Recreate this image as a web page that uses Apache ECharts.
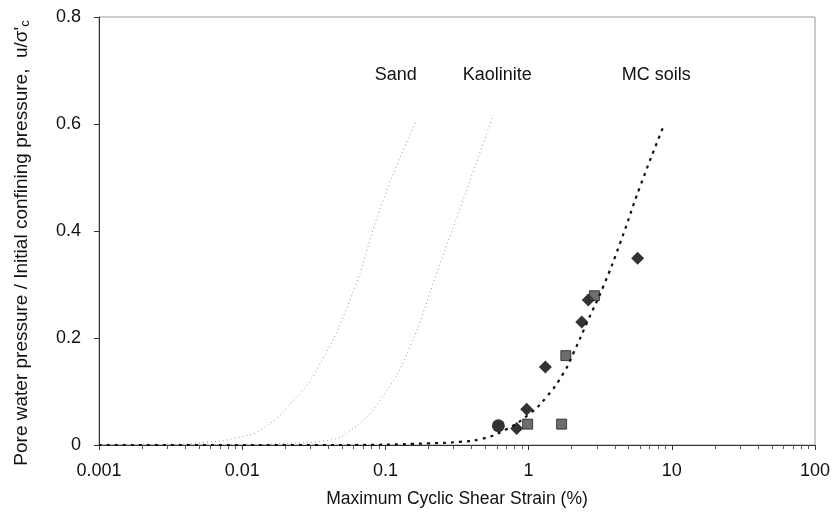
<!DOCTYPE html>
<html>
<head>
<meta charset="utf-8">
<script src="https://cdn.jsdelivr.net/npm/echarts@6/dist/echarts.min.js"></script>
<style>
  html, body { margin: 0; padding: 0; background: #fff; }
  #chart { width: 836px; height: 518px; }
</style>
</head>
<body>
<div id="chart"></div>
<script>
// curves [strain %, u/sigma'c]
var sandCurve = [[0.001, 0], [0.003, 0.001], [0.00565, 0.005], [0.009, 0.013], [0.014, 0.031],
  [0.024, 0.09], [0.0322, 0.134], [0.0566, 0.271], [0.0966, 0.458], [0.163, 0.604]];
var kaoliniteCurve = [[0.001, 0], [0.01, 0.0005], [0.0204, 0.003], [0.0368, 0.0075], [0.0597, 0.031],
  [0.0993, 0.097], [0.1486, 0.184], [0.228, 0.321], [0.323, 0.433], [0.566, 0.617]];
var mcCurve = [[0.001, 0], [0.05, 0], [0.2, 0.003], [0.332, 0.006], [0.458, 0.0107], [0.684, 0.028],
  [1.023, 0.059], [1.336, 0.09], [1.75, 0.134], [2.05, 0.171], [2.61, 0.234], [3.32, 0.296],
  [4.35, 0.377], [6.0, 0.483], [8.73, 0.595]];
// measured points
var diamondPts = [[5.77, 0.349], [2.61, 0.271], [2.35, 0.23], [1.31, 0.146], [0.97, 0.067], [0.826, 0.031]];
var squarePts = [[2.88, 0.279], [1.82, 0.167], [0.985, 0.039], [1.70, 0.039]];
var circlePts = [[0.615, 0.036]];
var yTicks = [0, 0.2, 0.4, 0.6, 0.8];

var FONT = '"Liberation Sans", Arial, sans-serif';

// text label placed above the top end of a curve
function endLabel(pt, text, dx, dy) {
  return {
    symbol: 'circle',
    symbolSize: 1,
    silent: true,
    itemStyle: { color: 'rgba(0,0,0,0)' },
    data: [{
      coord: pt,
      label: {
        show: true, position: 'inside', formatter: text,
        color: '#111', fontSize: 18, fontFamily: FONT, offset: [dx, dy]
      }
    }]
  };
}

var chart = echarts.init(document.getElementById('chart'));
var option = {
  animation: false,
  backgroundColor: '#fff',
  grid: {
    left: 99, right: 21, top: 17, bottom: 73, outerBoundsMode: 'none',
    show: true, borderColor: '#999', borderWidth: 1
  },
  xAxis: {
    type: 'log',
    logBase: 10,
    min: 0.001,
    max: 100,
    name: 'Maximum Cyclic Shear Strain (%)',
    nameLocation: 'middle',
    nameGap: 45,
    nameTextStyle: { fontSize: 17.5, fontFamily: FONT, color: '#111' },
    axisLine: { lineStyle: { color: '#333', width: 1 } },
    axisTick: { show: true, inside: false, length: 5, lineStyle: { color: '#333' } },
    minorTick: { show: true, splitNumber: 9, length: 4, lineStyle: { color: '#555' } },
    splitLine: { show: false },
    axisLabel: {
      fontSize: 18, fontFamily: FONT, color: '#111', margin: 17,
      formatter: function (v) { return String(+v.toPrecision(3)); }
    }
  },
  yAxis: {
    type: 'value',
    min: yTicks[0],
    max: yTicks[yTicks.length - 1],
    interval: 0.2,
    name: '{a|Pore water pressure / Initial confining pressure,  u/σ\'}{s|c}',
    nameLocation: 'middle',
    nameGap: 67,
    nameTextStyle: {
      fontFamily: FONT, color: '#111',
      rich: {
        a: { fontSize: 19, fontFamily: FONT, color: '#111' },
        s: { fontSize: 13, fontFamily: FONT, color: '#111', padding: [7, 24, 0, 0] }
      }
    },
    axisLine: { show: true, lineStyle: { color: '#333', width: 1 } },
    axisTick: { show: true, length: 5, lineStyle: { color: '#333' } },
    splitLine: { show: false },
    axisLabel: {
      fontSize: 18, fontFamily: FONT, color: '#111', margin: 18,
      formatter: function (v) { return String(+v.toFixed(1)); }
    }
  },
  series: [
    {
      name: 'Sand', type: 'line', data: sandCurve, smooth: true, showSymbol: false, silent: true,
      lineStyle: { color: '#9a9a9a', width: 1, type: [1, 3] },
      markPoint: endLabel(sandCurve[sandCurve.length - 1], 'Sand', -20, -47)
    },
    {
      name: 'Kaolinite', type: 'line', data: kaoliniteCurve, smooth: true, showSymbol: false, silent: true,
      lineStyle: { color: '#9a9a9a', width: 1, type: [1, 3] },
      markPoint: endLabel(kaoliniteCurve[kaoliniteCurve.length - 1], 'Kaolinite', 4, -40)
    },
    {
      name: 'MC soils', type: 'line', data: mcCurve, smooth: true, showSymbol: false, silent: true,
      lineStyle: { color: '#111', width: 2.2, type: [3, 5] },
      markPoint: endLabel(mcCurve[mcCurve.length - 1], 'MC soils', -7, -52)
    },
    {
      name: 'diamond', type: 'scatter', data: diamondPts, symbol: 'diamond', symbolSize: 13,
      itemStyle: { color: '#000' }
    },
    {
      name: 'square', type: 'scatter', data: squarePts, symbol: 'rect', symbolSize: 10,
      itemStyle: { color: '#4a4a4a', borderColor: '#222', borderWidth: 1 }
    },
    {
      name: 'circle', type: 'scatter', data: circlePts, symbol: 'circle', symbolSize: 13,
      itemStyle: { color: '#000' }
    }
  ]
};
chart.setOption(option);
</script>
</body>
</html>
